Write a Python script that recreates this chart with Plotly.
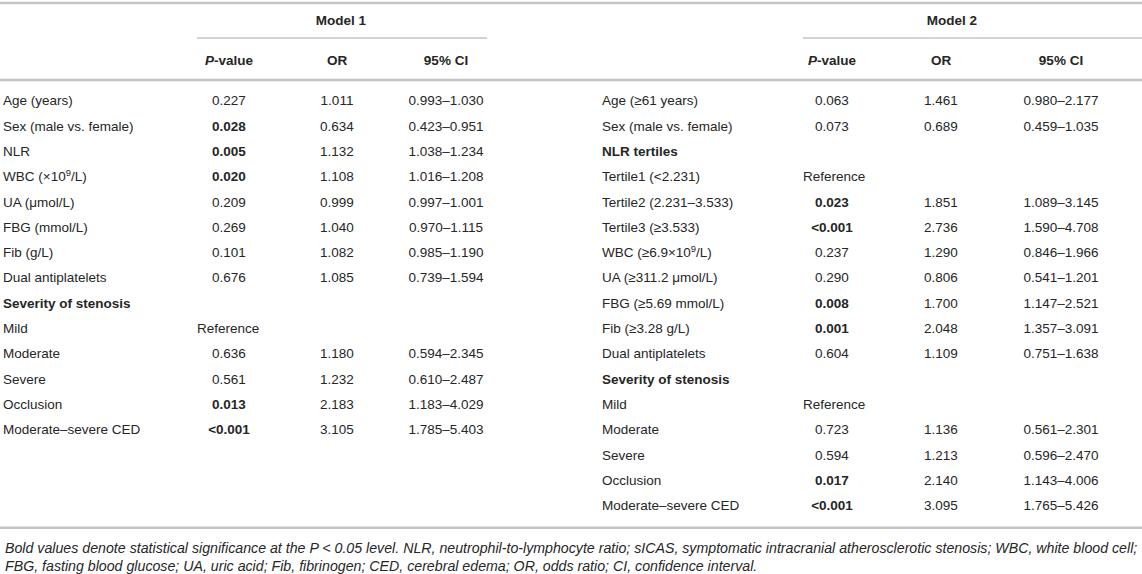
import plotly.graph_objects as go

# === Data: Model 1 ===
labels1 = ["Age (years)", "Sex (male vs. female)", "NLR", "WBC (×10<sup>9</sup>/L)",
           "UA (μmol/L)", "FBG (mmol/L)", "Fib (g/L)", "Dual antiplatelets",
           "<b>Severity of stenosis</b>", "Mild", "Moderate", "Severe", "Occlusion",
           "Moderate–severe CED"]
pval1 = ["0.227", "0.028", "0.005", "0.020", "0.209", "0.269", "0.101", "0.676",
         "", "Reference", "0.636", "0.561", "0.013", "<0.001"]
or1 = ["1.011", "0.634", "1.132", "1.108", "0.999", "1.040", "1.082", "1.085",
       "", "", "1.180", "1.232", "2.183", "3.105"]
ci1 = ["0.993–1.030", "0.423–0.951", "1.038–1.234", "1.016–1.208", "0.997–1.001",
       "0.970–1.115", "0.985–1.190", "0.739–1.594", "", "", "0.594–2.345",
       "0.610–2.487", "1.183–4.029", "1.785–5.403"]

# === Data: Model 2 ===
labels2 = ["Age (≥61 years)", "Sex (male vs. female)", "<b>NLR tertiles</b>",
           "Tertile1 (<2.231)", "Tertile2 (2.231–3.533)", "Tertile3 (≥3.533)",
           "WBC (≥6.9×10<sup>9</sup>/L)", "UA (≥311.2 μmol/L)", "FBG (≥5.69 mmol/L)",
           "Fib (≥3.28 g/L)", "Dual antiplatelets", "<b>Severity of stenosis</b>",
           "Mild", "Moderate", "Severe", "Occlusion", "Moderate–severe CED"]
pval2 = ["0.063", "0.073", "", "Reference", "0.023", "<0.001", "0.237", "0.290",
         "0.008", "0.001", "0.604", "", "Reference", "0.723", "0.594", "0.017", "<0.001"]
or2 = ["1.461", "0.689", "", "", "1.851", "2.736", "1.290", "0.806", "1.700",
       "2.048", "1.109", "", "", "1.136", "1.213", "2.140", "3.095"]
ci2 = ["0.980–2.177", "0.459–1.035", "", "", "1.089–3.145", "1.590–4.708",
       "0.846–1.966", "0.541–1.201", "1.147–2.521", "1.357–3.091", "0.751–1.638",
       "", "", "0.561–2.301", "0.596–2.470", "1.143–4.006", "1.765–5.426"]

headers = ["<b><i>P</i>-value</b>", "<b>OR</b>", "<b>95% CI</b>"]
models = ["<b>Model 1</b>", "<b>Model 2</b>"]
footnote = [
    "Bold values denote statistical significance at the P < 0.05 level. NLR, neutrophil-to-lymphocyte ratio; "
    "sICAS, symptomatic intracranial atherosclerotic stenosis; WBC, white blood cell;",
    "FBG, fasting blood glucose; UA, uric acid; Fib, fibrinogen; CED, cerebral edema; OR, odds ratio; "
    "CI, confidence interval.",
]

# === Layout config (axis units = screen pixels) ===
W, H = 1142, 574
FONT = "Liberation Sans, Arial, sans-serif"
TXT = "#262626"
RULE = "#c4c4c4"
FS = 13.5
row0, row_h = 102, 25.3
blocks = [
    # label x, block start, p center, or center, ci center, underline end
    dict(lx=3, start=197, cols=(229, 337, 446), end=487),
    dict(lx=602, start=803, cols=(832, 941, 1061), end=1142),
]
n_rows = max(len(labels1), len(labels2))
bottom_rule = row0 + (n_rows - 1) * row_h + 21


def esc(s):
    return s.replace("<2", "&lt;2").replace("<0", "&lt;0")


def pfmt(s):
    v = float(s.lstrip("<"))
    t = esc(s)
    return f"<b>{t}</b>" if (s.startswith("<") or v < 0.05) else t


def text_col(fig, x, ys, texts, pos="middle center"):
    pts = [(y, t) for y, t in zip(ys, texts) if t]
    fig.add_trace(go.Scatter(x=[x] * len(pts), y=[p[0] for p in pts], mode="text",
                             text=[p[1] for p in pts], textposition=pos, cliponaxis=False,
                             textfont=dict(family=FONT, size=FS, color=TXT),
                             hoverinfo="skip"))


fig = go.Figure()

for blk, labels, pv, orv, civ in zip(blocks, [labels1, labels2], [pval1, pval2],
                                      [or1, or2], [ci1, ci2]):
    ys = [row0 + i * row_h for i in range(len(labels))]
    text_col(fig, blk["lx"], ys, [esc(s) for s in labels], "middle right")
    text_col(fig, blk["cols"][0], ys,
             [pfmt(s) if s not in ("", "Reference") else "" for s in pv])
    text_col(fig, blk["start"], ys, [s if s == "Reference" else "" for s in pv], "middle right")
    text_col(fig, blk["cols"][1], ys, orv)
    text_col(fig, blk["cols"][2], ys, civ)
    # column headers
    for cx, hd in zip(blk["cols"], headers):
        text_col(fig, cx, [62], [hd])
    # underline under model name
    fig.add_shape(type="line", x0=blk["start"], x1=blk["end"], y0=38, y1=38,
                  line=dict(color=RULE, width=1.5))

for cx, m in zip([341, 952], models):
    text_col(fig, cx, [22], [m])

for yy in [3, 80, bottom_rule]:
    fig.add_shape(type="line", x0=0, x1=W, y0=yy, y1=yy, line=dict(color=RULE, width=2.5))

for i, line in enumerate(footnote):
    fig.add_annotation(x=3, y=bottom_rule + 20 + i * 18, xref="x", yref="y",
                       text=f"<i>{esc(line)}</i>", showarrow=False,
                       xanchor="left", yanchor="middle",
                       font=dict(family=FONT, size=14.2, color=TXT))

fig.update_xaxes(range=[0, W], visible=False, fixedrange=True)
fig.update_yaxes(range=[H, 0], visible=False, fixedrange=True)
fig.update_layout(width=W, height=H, margin=dict(l=0, r=0, t=0, b=0),
                  plot_bgcolor="white", paper_bgcolor="white", showlegend=False)

# drop the default 8px body margin so the figure fills the window exactly
fig.write_html("out.html", config={"displayModeBar": False},
               post_script="document.body.style.margin='0';")
